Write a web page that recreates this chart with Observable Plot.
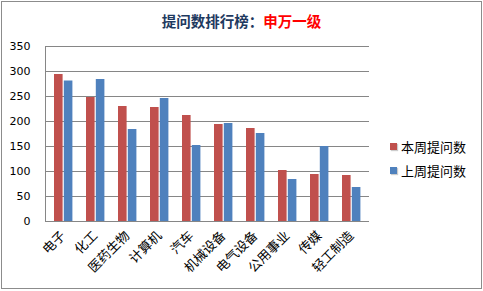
<!DOCTYPE html>
<html><head><meta charset="utf-8">
<script src="https://cdn.jsdelivr.net/npm/d3@7"></script>
<script src="https://cdn.jsdelivr.net/npm/@observablehq/plot@0.6"></script>
<style>
html,body{margin:0;padding:0;background:#fff;}
#wrap{position:relative;width:483px;height:291px;overflow:hidden;font-family:"Noto Sans CJK SC",sans-serif;}
#border{position:absolute;left:1px;top:1px;width:479px;height:286px;border:1px solid #8c8c8c;}
#title{position:absolute;left:0;top:10px;width:483px;text-align:center;font-size:14.5px;font-weight:bold;color:#1F3A5F;}
#title span{color:#ff0000;}
#chart{position:absolute;left:0;top:0;}
.leg{position:absolute;left:390px;font-size:13px;color:#000;display:flex;align-items:center;}
.leg i{display:inline-block;width:7px;height:7px;margin-right:4px;box-shadow:1px 1px 1px rgba(0,0,0,0.2);}
</style></head>
<body>
<div id="wrap">
  <div id="chart"></div>
  <div id="border"></div>
  <div id="title">提问数排行榜：<span>申万一级</span></div>
  <div id="legend"></div>
</div>
<script>
const categories = ["电子","化工","医药生物","计算机","汽车","机械设备","电气设备","公用事业","传媒","轻工制造"];
const thisWeek = [294, 248, 230, 228, 212, 194, 186, 102, 94, 92];
const lastWeek = [281, 284, 184, 246, 152, 196, 176, 84, 150, 68];
const seriesNames = ["本周提问数","上周提问数"];
const colors = ["#C0504D","#4F81BD"];
const yTicks = [0,50,100,150,200,250,300,350];

const data = categories.map((c,i)=>({c, a: thisWeek[i], b: lastWeek[i]}));
const shadow = "drop-shadow(1.5px 1px 1px rgba(0,0,0,0.22))";

const chart = Plot.plot({
  width: 483, height: 291,
  marginLeft: 45, marginRight: 114, marginTop: 46, marginBottom: 70,
  style: {background: "transparent", fontFamily: "DejaVu Sans, sans-serif"},
  x: {domain: categories, padding: 0},
  y: {domain: [0,350]},
  marks: [
    Plot.ruleY(yTicks, {stroke: "#868686", strokeWidth: 1, strokeOpacity: 1}),
    Plot.frame({anchor: "left", stroke: "#868686", strokeOpacity: 1}),
    Plot.barY(data, {x: "c", y: "a", fill: colors[0], insetLeft: 7, insetRight: 16.4, style: {filter: shadow}}),
    Plot.barY(data, {x: "c", y: "b", fill: colors[1], insetLeft: 16.8, insetRight: 6.6, style: {filter: shadow}}),
    Plot.axisY({ticks: yTicks, tickSize: 0, tickPadding: 15, fontSize: 11, fill: "#000", label: null}),
    Plot.axisX({tickSize: 0, tickPadding: 12, tickRotate: -45, fontSize: 13, fill: "#000", label: null, fontFamily: "Noto Sans CJK SC"})
  ]
});
document.getElementById("chart").appendChild(chart);

const leg = document.getElementById("legend");
seriesNames.forEach((n,i)=>{
  const d = document.createElement("div");
  d.className = "leg";
  d.style.top = (137 + i*24) + "px";
  d.innerHTML = `<i style="background:${colors[i]}"></i>${n}`;
  leg.appendChild(d);
});
</script>
</body></html>
